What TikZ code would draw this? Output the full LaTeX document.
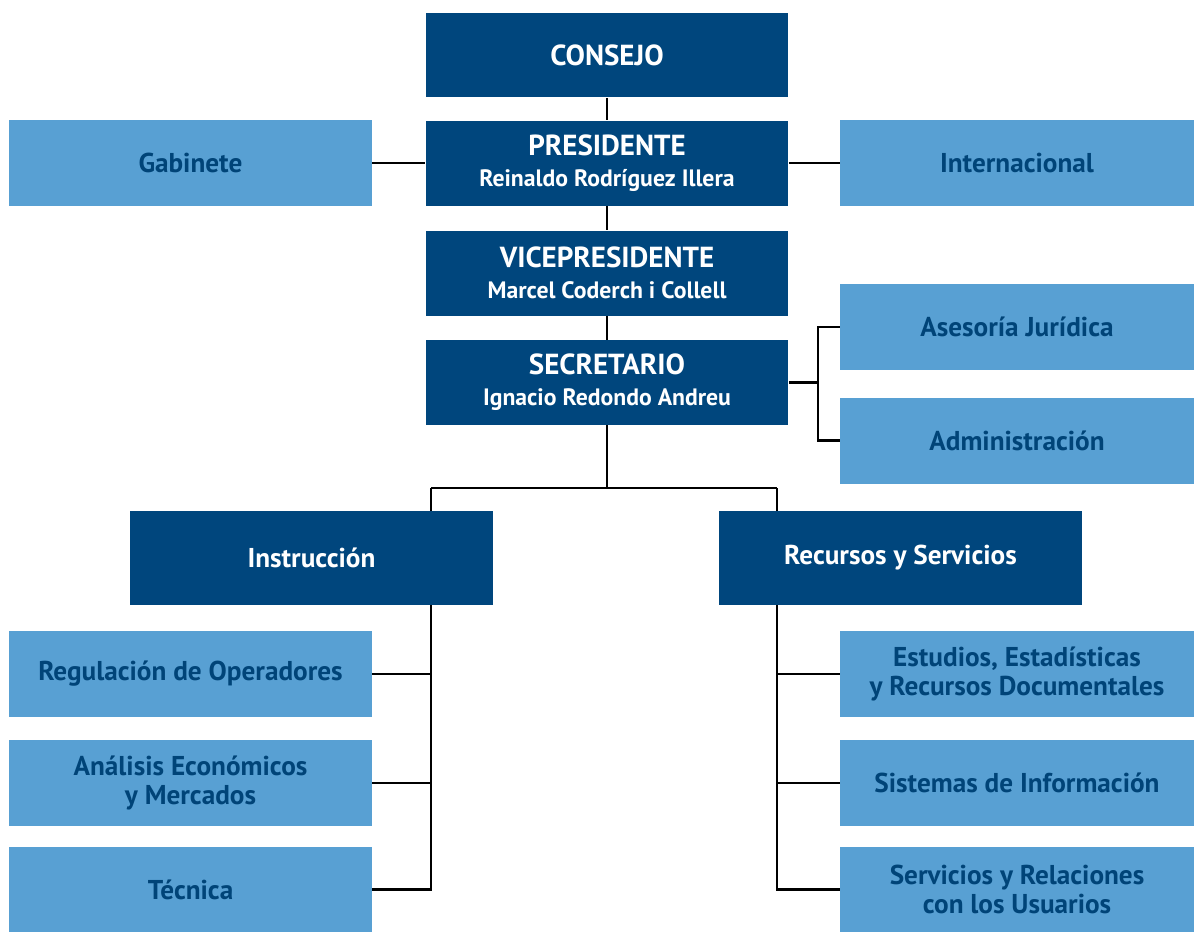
\documentclass[tikz,border=0pt]{standalone}
\usepackage{fontspec}
\setmainfont{PT Sans}
\usepackage{tikz}
\usetikzlibrary{positioning}
\definecolor{orgdark}{RGB}{0,70,125}
\definecolor{orglight}{RGB}{88,160,211}
\definecolor{orgtext}{RGB}{0,68,120}
\newcommand{\mainfs}{\fontsize{15.5}{16}\selectfont\bfseries}
\newcommand{\titlefs}{\fontsize{16.5}{16.5}\selectfont\bfseries}
\newcommand{\namefs}{\fontsize{13.5}{15}\selectfont\bfseries}

\begin{document}
\begin{tikzpicture}[x=0.02cm, y=-0.02cm,
      unit/.style={fill=orgdark, text=white, minimum width=7.26cm,
                   minimum height=1.7cm, inner sep=0pt, align=center, font=\mainfs},
      dept/.style={fill=orglight, text=orgtext, minimum width=#1,
                   minimum height=1.72cm, inner sep=0pt, align=center, font=\mainfs},
      dept/.default=7.26cm,
      link/.style={draw=black, line width=1.2pt}
  ]
    \useasboundingbox (0,0) rectangle (1194,931);

    \node[unit, font=\titlefs] (consejo) at (607,55) {CONSEJO};
    \node[unit, font=\titlefs] (presi) at (607,163)
      {PRESIDENTE\\[1pt]{\namefs Reinaldo Rodríguez Illera}};
    \node[unit, font=\titlefs] (vice) at (607,273)
      {VICEPRESIDENTE\\[1pt]{\namefs Marcel Coderch i Collell}};
    \node[unit, font=\titlefs] (secr) at (607,382.5)
      {SECRETARIO\\[1pt]{\namefs Ignacio Redondo Andreu}};

    \node[dept] (gabin) at (190.5,163) {Gabinete};
    \node[dept=7.08cm] (inter) at (1017,163) {Internacional};
    \node[dept=7.08cm] (asesor) at (1017,327) {Asesoría Jurídica};
    \node[dept=7.08cm] (admin) at (1017,440.5) {Administración};

    \node[unit, minimum height=1.88cm] (instr) at (311.5,558) {Instrucción};
    \node[unit, minimum height=1.88cm] (recur) at (900.5,558) {Recursos y Servicios};

    \node[dept] (regul) at (190.5,674) {Regulación de Operadores};
    \node[dept] (analis) at (190.5,783) {Análisis Económicos\\y Mercados};
    \node[dept] (tecn) at (190.5,889.5) {Técnica};

    \node[dept=7.08cm] (estud) at (1017,674)
      {Estudios, Estadísticas\\y Recursos Documentales};
    \node[dept=7.08cm] (sistem) at (1017,783) {Sistemas de Información};
    \node[dept=7.08cm] (servic) at (1017,889.5)
      {Servicios y Relaciones\\con los Usuarios};

    % main line
    \draw[link] (consejo) -- (presi);
    \draw[link] (presi) -- (vice);
    \draw[link] (vice) -- (secr);
    \draw[link] (gabin) -- (presi);
    \draw[link] (presi) -- (inter);

    % secretario bracket
    \coordinate (sbar) at (818,382.5);
    \draw[link] (secr) -- (sbar);
    \draw[link] (asesor.west) -- (asesor.west -| sbar) -- (admin.west -| sbar) -- (admin.west);

    % split to the two directions
    \coordinate (split) at (607,488);
    \coordinate (lsplit) at (431,488);
    \coordinate (rsplit) at (777,488);
    \draw[link] (secr) -- (split);
    \draw[link] (lsplit) -- (rsplit);
    \draw[link] (lsplit) -- (lsplit |- instr.north);
    \draw[link] (rsplit) -- (rsplit |- recur.north);

    \draw[link] (lsplit |- instr.south) -- (lsplit |- tecn.east) -- (tecn.east);
    \draw[link] (regul) -- (regul -| lsplit);
    \draw[link] (analis) -- (analis -| lsplit);

    \draw[link] (rsplit |- recur.south) -- (rsplit |- servic.west) -- (servic.west);
    \draw[link] (estud) -- (estud -| rsplit);
    \draw[link] (sistem) -- (sistem -| rsplit);
  \end{tikzpicture}
\end{document}
